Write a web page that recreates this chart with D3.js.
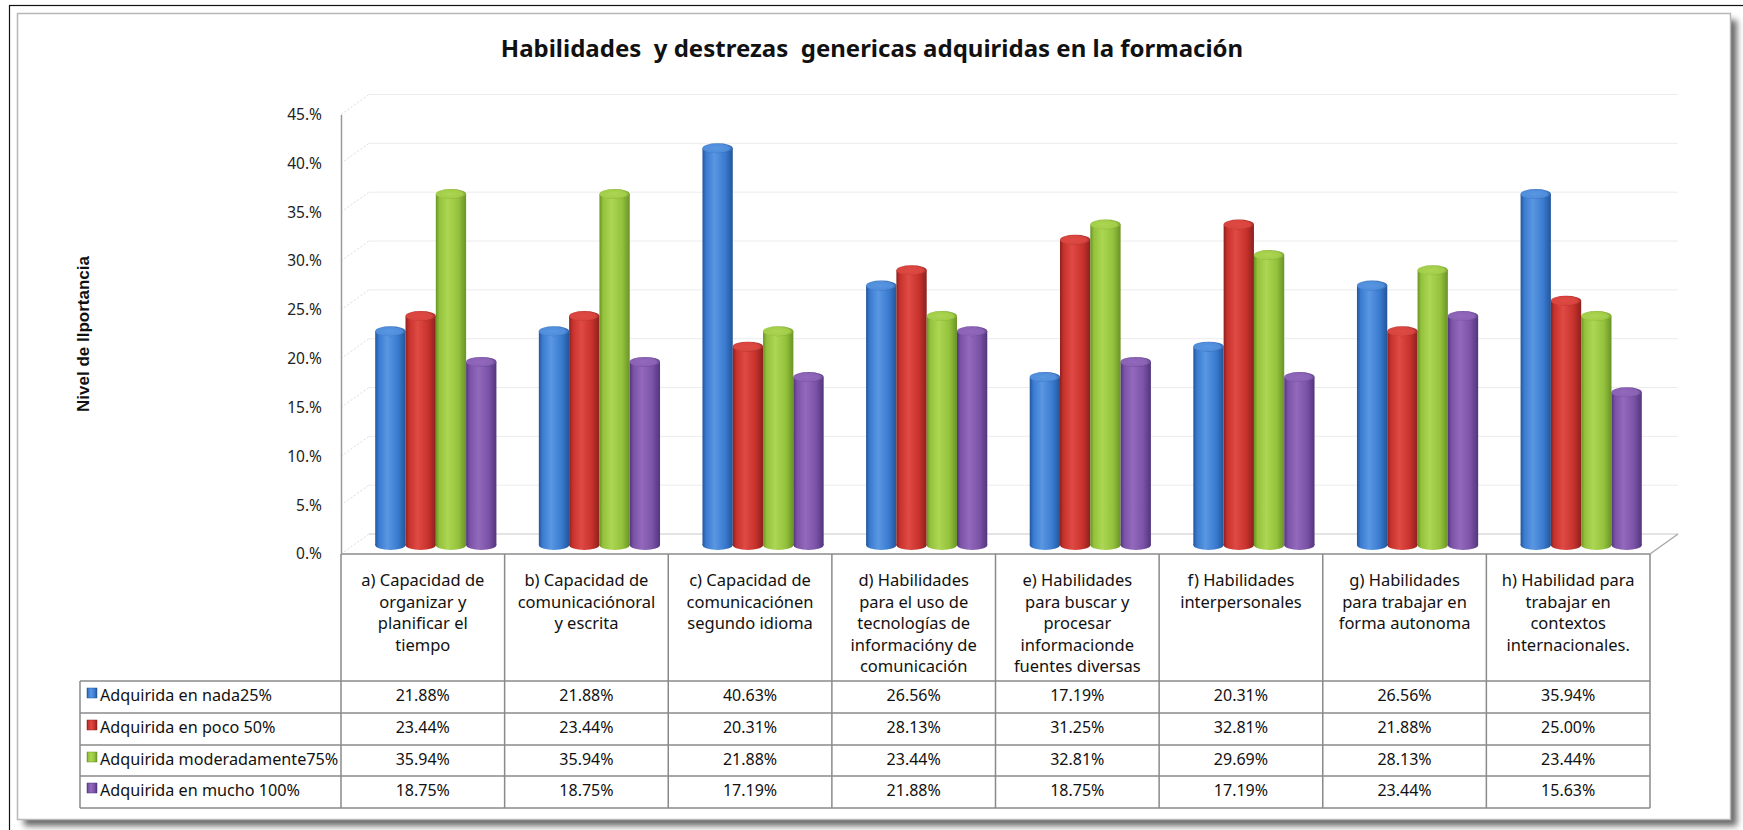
<!DOCTYPE html>
<html>
<head>
<meta charset="utf-8">
<script src="https://cdn.jsdelivr.net/npm/d3@7"></script>
<style>
  html, body { margin: 0; padding: 0; background: #ffffff; }
  svg { display: block; }
</style>
</head>
<body>
<svg id="chart" width="1743" height="830"></svg>
<script>
// ---------------- DATA ----------------
const categories = ["a", "b", "c", "d", "e", "f", "g", "h"];
const categoryLabels = [
  ["a) Capacidad de", "organizar y", "planificar el", "tiempo"],
  ["b) Capacidad de", "comunicaciónoral", "y escrita"],
  ["c) Capacidad de", "comunicaciónen", "segundo idioma"],
  ["d) Habilidades", "para el uso de", "tecnologías de", "informacióny de", "comunicación"],
  ["e) Habilidades", "para buscar y", "procesar", "informacionde", "fuentes diversas"],
  ["f) Habilidades", "interpersonales"],
  ["g) Habilidades", "para trabajar en", "forma autonoma"],
  ["h) Habilidad para", "trabajar en", "contextos", "internacionales."]
];
const seriesNames = ["Adquirida en nada25%", "Adquirida en poco 50%", "Adquirida moderadamente75%", "Adquirida en mucho 100%"];
const nada      = [21.88, 21.88, 40.63, 26.56, 17.19, 20.31, 26.56, 35.94];
const poco      = [23.44, 23.44, 20.31, 28.13, 31.25, 32.81, 21.88, 25.00];
const moderada  = [35.94, 35.94, 21.88, 23.44, 32.81, 29.69, 28.13, 23.44];
const mucho     = [18.75, 18.75, 17.19, 21.88, 18.75, 17.19, 23.44, 15.63];
const seriesValues = [nada, poco, moderada, mucho];
const yTicks = [0, 5, 10, 15, 20, 25, 30, 35, 40, 45];
const yTickLabels = ["0.%", "5.%", "10.%", "15.%", "20.%", "25.%", "30.%", "35.%", "40.%", "45.%"];
const titleText = "Habilidades  y destrezas  genericas adquiridas en la formación";
const yAxisTitle = "Nivel de Ilportancia";

// ---------------- STYLE ----------------
const palette = [
  { dark: "#23559a", mid: "#3a7bd0", light: "#5a97e2", top: "#4f8cda" },
  { dark: "#8c201d", mid: "#c8322d", light: "#e04a44", top: "#d8443e" },
  { dark: "#6a9326", mid: "#94c23c", light: "#acd653", top: "#a2cd48" },
  { dark: "#52357c", mid: "#7a52a6", light: "#9269bd", top: "#8a62b4" }
];
const font = "'Noto Sans', 'Open Sans', sans-serif";

const svg = d3.select("#chart");
const defs = svg.append("defs");

// ---------------- FRAME ----------------
const shadowF = defs.append("filter").attr("id", "shadow").attr("x", "-5%").attr("y", "-5%").attr("width", "110%").attr("height", "110%");
shadowF.append("feGaussianBlur").attr("stdDeviation", 3);

svg.append("rect").attr("x", 9.5).attr("y", 5.5).attr("width", 1745).attr("height", 840)
  .attr("fill", "none").attr("stroke", "#111").attr("stroke-width", 1.2);
svg.append("rect").attr("x", 24).attr("y", 20).attr("width", 1713).attr("height", 806)
  .attr("fill", "#6a6a6a").attr("filter", "url(#shadow)");
svg.append("rect").attr("x", 17.5).attr("y", 13.5).attr("width", 1713).attr("height", 806)
  .attr("fill", "#ffffff").attr("stroke", "#b8b8b8").attr("stroke-width", 1.5);

// ---------------- SCALES ----------------
const plotLeft = 341, plotRight = 1650;
const floorY = 554, topY = 114.5;
const depth = { dx: 28, dy: -20 };
const barOff = { dx: 13, dy: -9 };

const x = d3.scaleBand().domain(categories).range([plotLeft, plotRight]).padding(0);
const xs = d3.scaleBand().domain(d3.range(seriesNames.length)).range([0, x.bandwidth()])
  .paddingInner(0).paddingOuter(0.7);
const y = d3.scaleLinear().domain([0, 45]).range([floorY, topY]);

// ---------------- TITLE ----------------
svg.append("text")
  .attr("x", 872).attr("y", 57)
  .attr("text-anchor", "middle")
  .style("white-space", "pre")
  .attr("font-family", "'Noto Sans', sans-serif")
  .attr("font-weight", "bold")
  .attr("font-size", 24)
  .attr("fill", "#111")
  .text(titleText);

// Y axis title
svg.append("text")
  .attr("transform", "translate(89,334) rotate(-90)")
  .attr("text-anchor", "middle")
  .attr("font-family", "'Liberation Sans', Arial, sans-serif")
  .attr("font-weight", "bold")
  .attr("font-size", 17)
  .attr("fill", "#111")
  .text(yAxisTitle);

// ---------------- WALLS / GRID ----------------
const grid = svg.append("g");
grid.selectAll("line.back").data(yTicks).enter().append("line")
  .attr("x1", plotLeft + depth.dx).attr("x2", plotRight + depth.dx)
  .attr("y1", d => y(d) + depth.dy).attr("y2", d => y(d) + depth.dy)
  .attr("stroke", d => d === 0 ? "#c8c8c8" : "#ececec").attr("stroke-width", 1);
grid.selectAll("line.side").data(yTicks).enter().append("line")
  .attr("x1", plotLeft).attr("x2", plotLeft + depth.dx)
  .attr("y1", d => y(d)).attr("y2", d => y(d) + depth.dy)
  .attr("stroke", "#dcdcdc").attr("stroke-width", 1).attr("stroke-dasharray", "2,2");
grid.append("line")
  .attr("x1", plotRight).attr("y1", y(0))
  .attr("x2", plotRight + depth.dx).attr("y2", y(0) + depth.dy)
  .attr("stroke", "#a8a8a8").attr("stroke-width", 1.5);

// ---------------- BARS (cylinders) ----------------
palette.forEach((c, i) => {
  const g = defs.append("linearGradient").attr("id", "grad" + i).attr("x1", "0%").attr("x2", "100%").attr("y1", "0%").attr("y2", "0%");
  g.append("stop").attr("offset", "0%").attr("stop-color", c.dark);
  g.append("stop").attr("offset", "12%").attr("stop-color", c.mid);
  g.append("stop").attr("offset", "40%").attr("stop-color", c.light);
  g.append("stop").attr("offset", "75%").attr("stop-color", c.mid);
  g.append("stop").attr("offset", "100%").attr("stop-color", c.dark);
  const t = defs.append("radialGradient").attr("id", "top" + i).attr("cx", "45%").attr("cy", "50%").attr("r", "60%");
  t.append("stop").attr("offset", "0%").attr("stop-color", c.light);
  t.append("stop").attr("offset", "70%").attr("stop-color", c.top);
  t.append("stop").attr("offset", "100%").attr("stop-color", c.dark);
});

const barData = [];
categories.forEach((cat, ci) => {
  seriesValues.forEach((vals, si) => {
    barData.push({ cat, si, v: vals[ci] });
  });
});

const ry = 5;
const bars = svg.append("g").selectAll("g.bar").data(barData).enter().append("g").attr("class", "bar");
bars.each(function(d) {
  const g = d3.select(this);
  const w = xs.bandwidth();
  const x0 = x(d.cat) + xs(d.si) + barOff.dx;
  const yb = y(0) + barOff.dy;
  const yt = y(d.v) + barOff.dy;
  g.append("ellipse").attr("cx", x0 + w / 2).attr("cy", yb).attr("rx", w / 2).attr("ry", ry)
    .attr("fill", "url(#grad" + d.si + ")");
  g.append("rect").attr("x", x0).attr("y", yt).attr("width", w).attr("height", yb - yt)
    .attr("fill", "url(#grad" + d.si + ")");
  g.append("ellipse").attr("cx", x0 + w / 2).attr("cy", yt).attr("rx", w / 2).attr("ry", ry)
    .attr("fill", "url(#top" + d.si + ")");
});

svg.append("line")
  .attr("x1", plotLeft).attr("x2", plotRight)
  .attr("y1", y(0)).attr("y2", y(0))
  .attr("stroke", "#a8a8a8").attr("stroke-width", 2);

// ---------------- Y AXIS ----------------
const yAxis = d3.axisLeft(y).tickValues(yTicks)
  .tickFormat((d, i) => yTickLabels[i])
  .tickSize(0).tickSizeOuter(0).tickPadding(19);
const ya = svg.append("g").attr("transform", `translate(${plotLeft},0)`).call(yAxis);
ya.select(".domain").attr("stroke", "#9a9a9a").attr("stroke-width", 1.5);
ya.selectAll("text").attr("font-family", font).attr("font-size", 15.5).attr("fill", "#222");

// ---------------- DATA TABLE ----------------
const tableLeft = 80;
const rowTops = [681, 713, 745, 776, 808];
const border = "#8a8a8a";
const table = svg.append("g");

categoryLabels.forEach((lines, ci) => {
  const cx = x(categories[ci]) + x.bandwidth() / 2;
  const t = table.append("text")
    .attr("text-anchor", "middle")
    .attr("font-family", font)
    .attr("font-size", 16.5)
    .attr("fill", "#111");
  lines.forEach((ln, li) => {
    t.append("tspan").attr("x", cx).attr("y", 586 + li * 21.6).text(ln);
  });
});

table.selectAll("line.h").data(rowTops).enter().append("line")
  .attr("x1", tableLeft).attr("x2", plotRight)
  .attr("y1", d => d).attr("y2", d => d)
  .attr("stroke", border).attr("stroke-width", 1.5);
const colEdges = categories.map(c => x(c)).concat([plotRight]);
table.selectAll("line.v").data(colEdges).enter().append("line")
  .attr("x1", d => d).attr("x2", d => d)
  .attr("y1", y(0)).attr("y2", rowTops[rowTops.length - 1])
  .attr("stroke", border).attr("stroke-width", 1.5);
table.append("line").attr("x1", tableLeft).attr("x2", tableLeft)
  .attr("y1", rowTops[0]).attr("y2", rowTops[rowTops.length - 1])
  .attr("stroke", border).attr("stroke-width", 1.5);

seriesNames.forEach((name, si) => {
  const top = rowTops[si];
  table.append("rect").attr("x", 87).attr("y", top + 7).attr("width", 10).attr("height", 10)
    .attr("fill", "url(#grad" + si + ")").attr("stroke", palette[si].dark).attr("stroke-width", 0.5);
  table.append("text").attr("x", 100).attr("y", top + 16)
    .attr("dominant-baseline", "middle")
    .attr("font-family", font).attr("font-size", 16.2)
    .attr("fill", "#111").text(name);
});

seriesValues.forEach((vals, si) => {
  const top = rowTops[si];
  vals.forEach((v, ci) => {
    table.append("text")
      .attr("x", x(categories[ci]) + x.bandwidth() / 2)
      .attr("y", top + 16)
      .attr("text-anchor", "middle")
      .attr("dominant-baseline", "middle")
      .attr("font-family", font).attr("font-size", 16)
      .attr("fill", "#111")
      .text(v.toFixed(2) + "%");
  });
});
</script>
</body>
</html>
